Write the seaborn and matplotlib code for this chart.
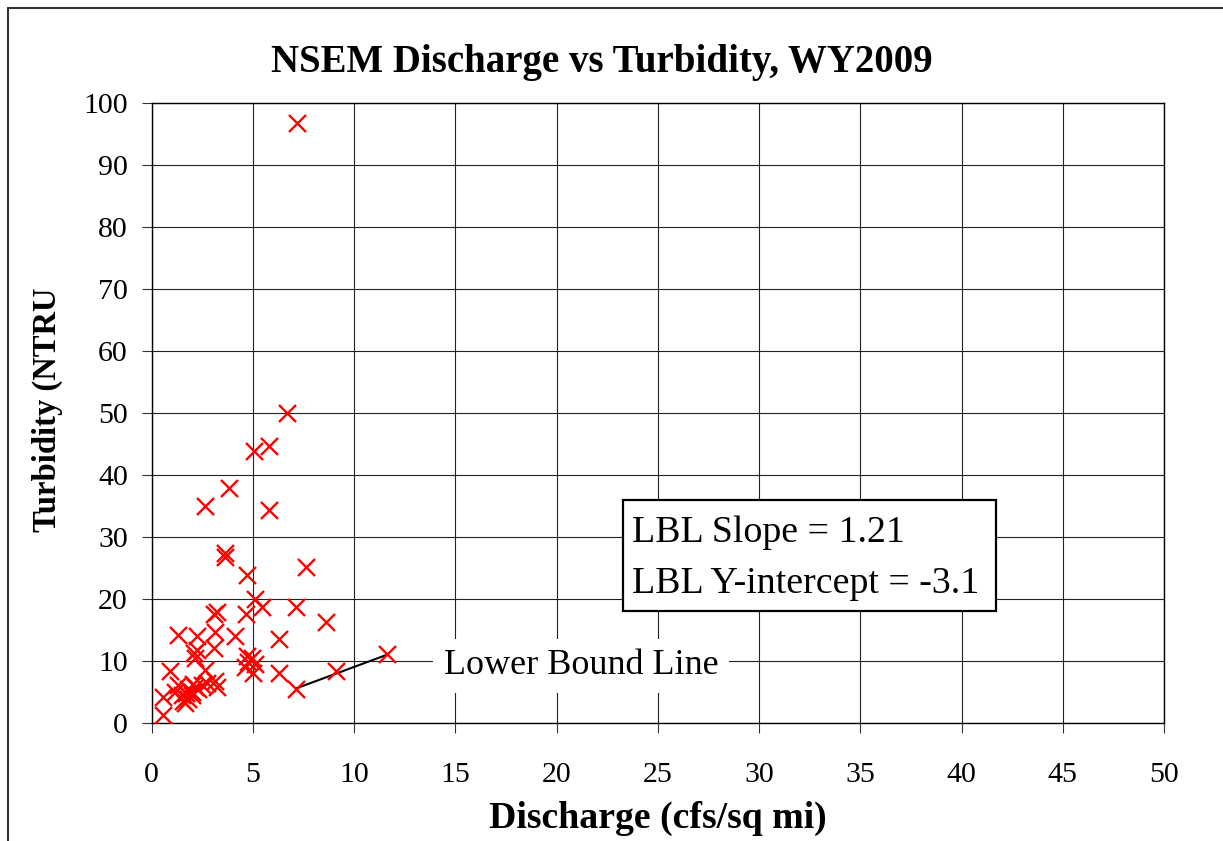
import matplotlib
matplotlib.use("Agg")
import matplotlib.pyplot as plt
import seaborn as sns
import pandas as pd
from matplotlib.lines import Line2D
from matplotlib.patches import Rectangle

# ---- data ----
discharge = [7.16, 6.67, 5.81, 5.05, 3.83, 2.65, 5.81, 3.62, 3.60, 4.72,
             7.62, 5.08, 5.43, 7.13, 8.61, 3.24, 3.06, 4.65, 1.31, 2.25,
             3.13, 4.10, 6.27, 3.10, 2.22, 2.10, 2.14, 4.69, 4.94, 4.77,
             5.10, 4.62, 5.02, 6.27, 7.15, 9.10, 11.6, 0.90, 2.65, 3.13,
             3.21, 2.72, 1.31, 0.57, 0.57, 1.15, 1.48, 1.64, 1.81, 1.98,
             2.14, 2.30, 2.47, 1.81, 1.56, 1.98, 2.06, 1.70]
turbidity = [96.8, 49.9, 44.6, 43.9, 37.9, 35.0, 34.3, 27.3, 26.8, 23.9,
             25.1, 19.9, 18.7, 18.7, 16.3, 17.8, 17.5, 17.6, 14.2, 14.0,
             14.6, 14.0, 13.5, 12.0, 11.8, 11.2, 10.5, 10.8, 10.4, 9.8,
             9.5, 9.0, 8.0, 8.0, 5.4, 8.3, 11.1, 8.4, 8.5, 6.8,
             5.8, 6.4, 6.1, 4.1, 1.2, 5.0, 4.5, 3.2, 5.5, 5.0,
             5.8, 5.5, 6.1, 3.9, 3.5, 4.4, 6.3, 4.8]
lbl_slope = 1.21
lbl_intercept = -3.1
lbl_x = [7.15, 11.6]
x_ticks = list(range(0, 55, 5))
y_ticks = list(range(0, 110, 10))
title = "NSEM Discharge vs Turbidity, WY2009"
x_label = "Discharge (cfs/sq mi)"
y_label = "Turbidity (NTRU"
box_lines = ["LBL Slope = 1.21", "LBL Y-intercept = -3.1"]
line_label = "Lower Bound Line"

df = pd.DataFrame({"Discharge": discharge, "Turbidity": turbidity})

sns.set_theme(style="white")
plt.rcParams["font.family"] = ["Liberation Serif", "DejaVu Serif"]
plt.rcParams["text.color"] = "black"
plt.rcParams["xtick.color"] = "black"
plt.rcParams["ytick.color"] = "black"
plt.rcParams["axes.labelcolor"] = "black"

W, H = 1223, 841
fig = plt.figure(figsize=(W / 100, H / 100), dpi=100)
ax = fig.add_axes([151.7 / W, 1 - 722.7 / H, (1164 - 151.7) / W, (722.7 - 102.7) / H])

sns.scatterplot(data=df, x="Discharge", y="Turbidity", marker="x", color="red",
                s=150, linewidth=1.7, ax=ax, zorder=3, legend=False)

# lower bound line
lbl_y = [lbl_slope * v + lbl_intercept for v in lbl_x]
ax.plot(lbl_x, lbl_y, color="black", lw=1.5, zorder=2)

ax.set_xlim(0, 50)
ax.set_ylim(0, 100)
ax.set_xticks(x_ticks)
ax.set_yticks(y_ticks)
ax.set_xticklabels([str(v) for v in x_ticks])
ax.set_yticklabels([str(v) for v in y_ticks])
ax.grid(True, color="#222222", lw=0.8)
ax.set_axisbelow(True)
for sp in ax.spines.values():
    sp.set_color("black")
    sp.set_linewidth(1.0)
ax.tick_params(axis="x", direction="out", length=7.2, width=0.8, color="#333333",
               labelcolor="black", labelsize=21.5, pad=21, bottom=True)
ax.tick_params(axis="y", direction="out", length=7.2, width=0.8, color="#333333",
               labelcolor="black", labelsize=21.5, pad=10, left=True)
ax.set_xlabel("")
ax.set_ylabel("")

# annotation text with white background
ax.text(14.43, 7.8, line_label, fontsize=26, ha="left", va="baseline", zorder=4,
        color="black",
        bbox=dict(boxstyle="square,pad=0.3", facecolor="white", edgecolor="none"))

# LBL box
ax.add_patch(Rectangle((23.26, 18.0), 41.69 - 23.26, 36.0 - 18.0, facecolor="white",
                       edgecolor="black", lw=1.6, zorder=4))
ax.text(23.70, 29.2, box_lines[0], fontsize=27.3, ha="left", va="baseline", zorder=5,
        color="black")
ax.text(23.70, 20.9, box_lines[1], fontsize=27.3, ha="left", va="baseline", zorder=5,
        color="black")

# titles
fig.text(602 / W, 1 - 72 / H, title, fontsize=28, fontweight="bold",
         ha="center", va="baseline", color="black")
fig.text(657.5 / W, 1 - 818 / H, x_label, fontsize=27.2, fontweight="bold",
         ha="center", va="center", color="black")
fig.text(47 / W, 1 - 410 / H, y_label, fontsize=23.5, fontweight="bold",
         ha="center", va="center", rotation=90, color="black")

# outer chart border
fig.add_artist(Line2D([8 / W, 1.0], [1 - 8 / H, 1 - 8 / H], color="#333333", lw=1.5,
                      transform=fig.transFigure))
fig.add_artist(Line2D([8 / W, 8 / W], [0.0, 1 - 8 / H], color="#333333", lw=1.5,
                      transform=fig.transFigure))

fig.savefig("out.png", dpi=100, facecolor="white")
